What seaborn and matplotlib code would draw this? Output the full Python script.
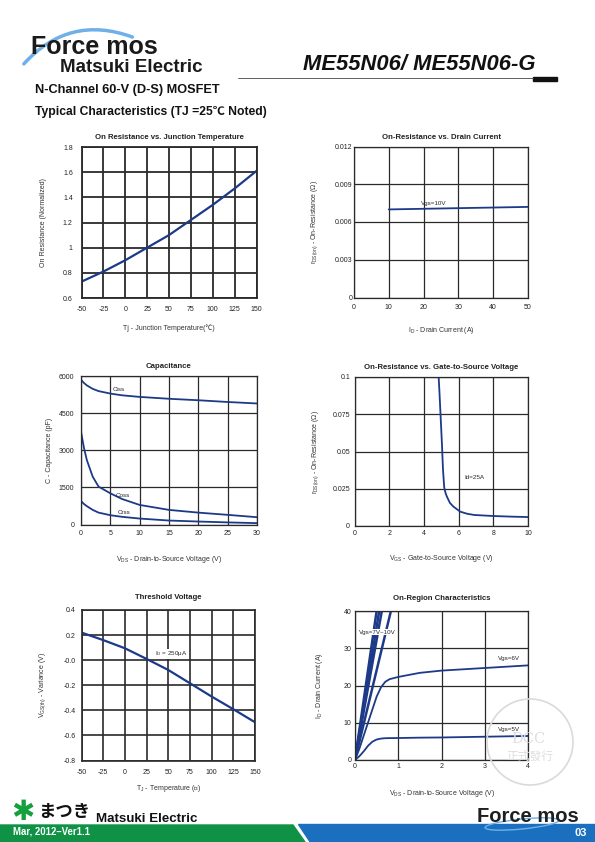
import numpy as np
import matplotlib.pyplot as plt
import matplotlib.patches as mpatches
import seaborn as sns

# ---- datos leidos de la hoja ----
# 1. On Resistance vs. Junction Temperature
tj_temp = [-50, -25, 0, 25, 50, 75, 100, 125, 150]
ron_norm = [0.73, 0.81, 0.90, 1.00, 1.10, 1.22, 1.34, 1.47, 1.61]

# 2. On-Resistance vs. Drain Current
id_current = [10, 20, 30, 40, 50]
rds_id = [0.0070, 0.00705, 0.0071, 0.00715, 0.0072]

# 3. Capacitance
vds_cap = [0, 0.5, 1, 2, 3, 5, 7, 10, 15, 20, 25, 30]
ciss = [5850, 5720, 5620, 5480, 5390, 5290, 5220, 5155, 5080, 5020, 4950, 4890]
coss = [3750, 3100, 2600, 1930, 1530, 1260, 1030, 790, 590, 480, 390, 295]
crss = [950, 830, 740, 590, 480, 375, 310, 240, 160, 120, 85, 55]

# 4. On-Resistance vs. Gate-to-Source Voltage
vgs = [4.85, 4.9, 4.97, 5.04, 5.1, 5.17, 5.25, 5.33, 5.5, 5.7, 6.1, 6.5, 6.9, 8.0, 9.0, 10.0]
rds_vgs = [0.1, 0.089, 0.072, 0.055, 0.038, 0.026, 0.022, 0.0196, 0.0155, 0.013, 0.0096, 0.0082, 0.0074, 0.0067, 0.0063, 0.006]

# 5. Threshold Voltage
tj_vth = [-50, -25, 0, 25, 50, 75, 100, 125, 150]
vth_var = [0.22, 0.16, 0.095, 0.01, -0.078, -0.184, -0.29, -0.391, -0.495]
vth_ticks = [0.4, 0.2, 0.0, -0.2, -0.4, -0.6, -0.8]
vth_ticklabels = ["0.4", "0.2", "-0.0", "-0.2", "-0.4", "-0.6", "-0.8"]

# 6. On-Region Characteristics
vds_on = [0, 0.1, 0.2, 0.3, 0.4, 0.5, 0.6, 0.7, 0.8, 1.0, 1.5, 2.0, 3.0, 4.0]
id_vgs5 = [0, 1.0, 2.3, 3.8, 4.9, 5.5, 5.75, 5.85, 5.88, 5.9, 6.0, 6.05, 6.25, 6.45]
id_vgs6 = [0, 3.0, 6.5, 10.0, 13.5, 17.0, 19.5, 21.0, 21.7, 22.3, 23.4, 24.0, 24.7, 25.4]
vds_lin = [0, 0.5, 0.56, 0.62, 0.83]
id_vgs10 = [0, 40]
id_vgs9 = [0, 40]
id_vgs8 = [0, 40]
id_vgs7 = [0, 40]

sns.set_style("white")
plt.rcParams['font.family'] = ['Liberation Sans', 'Noto Sans CJK JP', 'DejaVu Sans']
plt.rcParams['mathtext.fontset'] = 'custom'
plt.rcParams['mathtext.rm'] = 'Liberation Sans'
plt.rcParams['mathtext.it'] = 'Liberation Sans'
plt.rcParams['axes.unicode_minus'] = False

W, H = 595, 842
fig = plt.figure(figsize=(W / 100, H / 100), dpi=100)

azul = '#1c3a87'
rejilla = '#2a2a2a'


def ejes(l, r, t, b):
    return fig.add_axes([l / W, 1 - b / H, (r - l) / W, (b - t) / H])


def formato(ax, titulo, xl, yl, tit_y, xl_y, yl_x, ypad, xpad, glw=0.9):
    ax.grid(True, color=rejilla, lw=glw)
    for s in ax.spines.values():
        s.set_color(rejilla)
        s.set_linewidth(glw)
    ax.tick_params(length=0, labelsize=5, colors='#222222')
    ax.tick_params(axis='y', pad=ypad)
    ax.tick_params(axis='x', pad=xpad)
    ax.text(0.5, tit_y, titulo, transform=ax.transAxes, ha='center', va='center',
            fontsize=5.6, fontweight='bold', color='#222222')
    ax.set_xlabel(xl, fontsize=5, color='#333333')
    ax.set_ylabel(yl, fontsize=5, color='#333333')
    ax.xaxis.set_label_coords(0.5, xl_y)
    ax.yaxis.set_label_coords(yl_x, 0.5)


# 1
ax1 = ejes(81.5, 256.5, 147, 298)
sns.lineplot(x=tj_temp, y=ron_norm, ax=ax1, color=azul, lw=1.6)
ax1.set_xlim(-50, 150)
ax1.set_ylim(0.6, 1.8)
ax1.set_xticks(np.arange(-50, 151, 25))
ax1.set_yticks([0.6, 0.8, 1.0, 1.2, 1.4, 1.6, 1.8])
ax1.set_yticklabels(["0.6", "0.8", "1", "1.2", "1.4", "1.6", "1.8"])
formato(ax1, "On Resistance vs. Junction Temperature", "Tj - Junction Temperature(℃)",
        "On Resistance (Normalized)", 1.062, -0.172, -0.197, 6.3, 5.4, glw=1.3)

# 2
ax2 = ejes(354, 528, 146.5, 297.5)
sns.lineplot(x=id_current, y=rds_id, ax=ax2, color=azul, lw=1.3)
ax2.set_xlim(0, 50)
ax2.set_ylim(0, 0.012)
ax2.set_xticks([0, 10, 20, 30, 40, 50])
ax2.set_yticks([0, 0.003, 0.006, 0.009, 0.012])
ax2.set_yticklabels(["0", "0.003", "0.006", "0.009", "0.012"])
ax2.text(23, 0.0075, "Vgs=10V", fontsize=4.5, ha='center', va='center')
formato(ax2, "On-Resistance vs. Drain Current", "I$_D$ - Drain Current (A)",
        "r$_{DS(on)}$ - On-Resistance (Ω)", 1.057, -0.182, -0.195, 1.2, 4.7)

# 3
ax3 = ejes(81, 257, 376, 524.5)
for serie in [ciss, coss, crss]:
    sns.lineplot(x=vds_cap, y=serie, ax=ax3, color=azul, lw=1.3)
ax3.set_xlim(0, 30)
ax3.set_ylim(0, 6000)
ax3.set_xticks([0, 5, 10, 15, 20, 25, 30])
ax3.set_yticks([0, 1500, 3000, 4500, 6000])
ax3.text(6.5, 5450, "Ciss", fontsize=4.5, ha='center', va='center')
ax3.text(7.2, 1180, "Coss", fontsize=4.5, ha='center', va='center')
ax3.text(7.3, 500, "Crss", fontsize=4.5, ha='center', va='center')
formato(ax3, "Capacitance", "V$_{DS}$ - Drain-to-Source Voltage (V)",
        "C - Capacitance (pF)", 1.061, -0.199, -0.157, 4.8, 4.3)

# 4
ax4 = ejes(354.5, 528, 377, 526)
sns.lineplot(x=vgs, y=rds_vgs, ax=ax4, color=azul, lw=1.3)
ax4.set_xlim(0, 10)
ax4.set_ylim(0, 0.1)
ax4.set_xticks([0, 2, 4, 6, 8, 10])
ax4.set_yticks([0, 0.025, 0.05, 0.075, 0.1])
ax4.set_yticklabels(["0", "0.025", "0.05", "0.075", "0.1"])
ax4.text(6.9, 0.0325, "Id=25A", fontsize=4.5, ha='center', va='center')
formato(ax4, "On-Resistance vs. Gate-to-Source Voltage", "V$_{GS}$ - Gate-to-Source Voltage (V)",
        "r$_{DS(on)}$ - On-Resistance (Ω)", 1.063, -0.181, -0.193, 3.2, 3.0)

# 5
ax5 = ejes(81.5, 255, 610, 760.5)
sns.lineplot(x=tj_vth, y=vth_var, ax=ax5, color=azul, lw=1.6)
ax5.set_xlim(-50, 150)
ax5.set_ylim(-0.8, 0.4)
ax5.set_xticks(np.arange(-50, 151, 25))
ax5.set_yticks(vth_ticks)
ax5.set_yticklabels(vth_ticklabels)
ax5.text(35, 0.05, "I$_D$ = 250μA", fontsize=4.5, ha='left', va='center',
         bbox=dict(fc='white', ec='none', pad=0.6))
formato(ax5, "Threshold Voltage", "T$_J$ - Temperature (℃)",
        "V$_{GS(th)}$ - Variance (V)", 1.08, -0.150, -0.191, 4.2, 6.3, glw=1.2)

# 6
ax6 = ejes(355, 528, 611, 760)
sns.lineplot(x=vds_on, y=id_vgs5, ax=ax6, color=azul, lw=1.3)
sns.lineplot(x=vds_on, y=id_vgs6, ax=ax6, color=azul, lw=1.3)
for xf, serie in zip(vds_lin[1:], [id_vgs10, id_vgs9, id_vgs8, id_vgs7]):
    sns.lineplot(x=[0, xf], y=serie, ax=ax6, color=azul, lw=1.8)
ax6.set_xlim(0, 4)
ax6.set_ylim(0, 40)
ax6.set_xticks([0, 1, 2, 3, 4])
ax6.set_yticks([0, 10, 20, 30, 40])
ax6.text(0.1, 34.3, "Vgs=7V~10V", fontsize=4.5, ha='left', va='center',
         bbox=dict(fc='white', ec='none', pad=0.4))
ax6.text(3.55, 27.2, "Vgs=6V", fontsize=4.5, ha='center', va='center')
ax6.text(3.55, 8.1, "Vgs=5V", fontsize=4.5, ha='center', va='center')
formato(ax6, "On-Region Characteristics", "V$_{DS}$ - Drain-to-Source Voltage (V)",
        "I$_D$ - Drain Current (A)", 1.087, -0.188, -0.173, 2.4, 2.3)

# sello de agua
fig.patches.append(mpatches.Ellipse((530 / W, 1 - 742 / H), 86 / W, 86 / H,
                                    transform=fig.transFigure, fill=False,
                                    ec='#dadada', lw=1.2))
fig.text(528 / W, 1 - 739 / H, "DCC", fontsize=10.5, color='#dedede', ha='center', va='center',
         family='DejaVu Serif')
fig.text(530 / W, 1 - 756 / H, "正式發行", fontsize=8.5, color='#dedede', ha='center', va='center',
         family=['Noto Sans CJK TC'])

# cabecera
fig.patches.append(mpatches.FancyArrowPatch((22 / W, 1 - 66 / H), (135 / W, 1 - 38 / H),
                                            transform=fig.transFigure,
                                            connectionstyle="arc3,rad=-0.35",
                                            arrowstyle='-', color='#6fb0e8', lw=2.5))
fig.text(31 / W, 1 - 47 / H, "Force mos", fontsize=18, fontweight='bold', ha='left',
         va='center', color='#1a1a1a')
fig.text(60 / W, 1 - 68 / H, "Matsuki Electric", fontsize=13.5, fontweight='bold',
         ha='left', va='center', color='#1a1a1a')
fig.text(303 / W, 1 - 65 / H, "ME55N06/ ME55N06-G", fontsize=15.8, fontweight='bold',
         style='italic', ha='left', va='center', color='#111111')
fig.add_artist(plt.Line2D([238 / W, 533 / W], [1 - 78 / H, 1 - 78 / H], color='#444444',
                          lw=0.6, transform=fig.transFigure))
fig.patches.append(mpatches.Rectangle((533 / W, 1 - 81 / H), 24 / W, 4 / H,
                                      transform=fig.transFigure, color='#111111'))
fig.text(35 / W, 1 - 90.5 / H, "N-Channel 60-V (D-S) MOSFET", fontsize=9.2, fontweight='bold',
         ha='left', va='center', color='#111111')
fig.text(35 / W, 1 - 111.5 / H, "Typical Characteristics (TJ =25℃ Noted)", fontsize=8.7,
         fontweight='bold', ha='left', va='center', color='#111111')

# pie de pagina
fig.patches.append(mpatches.Polygon([(0, 17 / H), (293 / W, 17 / H), (305 / W, 0), (0, 0)],
                                    transform=fig.transFigure, color='#0f9146'))
fig.patches.append(mpatches.Polygon([(298 / W, 18 / H), (1, 18 / H), (1, 0), (310 / W, 0)],
                                    transform=fig.transFigure, color='#1a6fbf'))
fig.text(13 / W, 10 / H, "Mar, 2012–Ver1.1", fontsize=6.9, fontweight='bold', color='white',
         ha='left', va='center')
fig.text(587 / W, 9 / H, "03", fontsize=8, fontweight='bold', color='white',
         ha='right', va='center')
fig.text(23 / W, 1 - 812 / H, "✱", fontsize=20, color='#14a03c', ha='center', va='center',
         family='DejaVu Sans')
fig.text(38 / W, 1 - 812 / H, "まつき", fontsize=12.5, fontweight='bold', color='#111111',
         ha='left', va='center', family=['Noto Sans CJK JP'])
fig.text(96 / W, 1 - 819 / H, "Matsuki Electric", fontsize=9.6, fontweight='bold',
         color='#111111', ha='left', va='center')
fig.patches.append(mpatches.Ellipse((522 / W, 1 - 824 / H), 74 / W, 10 / H, angle=4,
                                    transform=fig.transFigure, fill=False,
                                    ec='#6fb0e8', lw=1.0))
fig.text(477 / W, 1 - 816 / H, "Force mos", fontsize=14.5, fontweight='bold',
         color='#1f1f1f', ha='left', va='center')

fig.savefig("out.png", dpi=100)
